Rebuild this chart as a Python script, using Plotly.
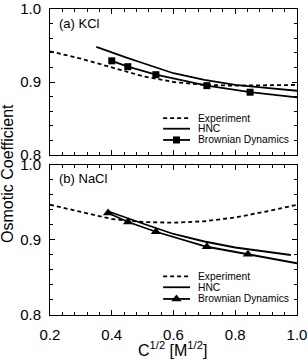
import plotly.graph_objects as go

# ---------------- data ----------------
# (a) KCl
kcl_exp_x = [0.2, 0.3, 0.4, 0.5, 0.6, 0.7, 0.8, 0.9, 1.0]
kcl_exp_y = [0.942, 0.932, 0.920, 0.908, 0.900, 0.896, 0.895, 0.895, 0.896]
kcl_hnc_x = [0.35, 0.4, 0.45, 0.5, 0.6, 0.7, 0.8, 0.9, 1.0]
kcl_hnc_y = [0.948, 0.940, 0.933, 0.926, 0.912, 0.903, 0.896, 0.892, 0.888]
kcl_bd_x = [0.40, 0.452, 0.543, 0.708, 0.848]
kcl_bd_y = [0.929, 0.921, 0.910, 0.895, 0.886]
kcl_bd_tail_x = [0.848, 1.0]
kcl_bd_tail_y = [0.886, 0.879]

# (b) NaCl
nacl_exp_x = [0.2, 0.3, 0.4, 0.5, 0.6, 0.7, 0.8, 0.9, 1.0]
nacl_exp_y = [0.947, 0.937, 0.928, 0.924, 0.923, 0.925, 0.930, 0.938, 0.947]
nacl_hnc_x = [0.39, 0.45, 0.5, 0.6, 0.7, 0.8, 0.9, 0.98]
nacl_hnc_y = [0.938, 0.929, 0.922, 0.908, 0.898, 0.890, 0.884, 0.880]
nacl_bd_x = [0.388, 0.453, 0.543, 0.708, 0.841]
nacl_bd_y = [0.936, 0.924, 0.911, 0.891, 0.881]
nacl_bd_tail_x = [0.841, 1.0]
nacl_bd_tail_y = [0.881, 0.869]

x_range = [0.2, 1.0]
y_range = [0.8, 1.0]
legend_labels = ["Experiment", "HNC", "Brownian Dynamics"]
panel_labels = ["(a) KCl", "(b) NaCl"]

FONT = "Liberation Sans, Arial, sans-serif"
LW = 1.8
DOT = "4px,3px"

fig = go.Figure()

def add_panel(xa, ya, ex, ey, hx, hy, bx, by, tx, ty, symbol, msize):
    fig.add_trace(go.Scatter(x=ex, y=ey, mode="lines", xaxis=xa, yaxis=ya,
                             line=dict(color="black", width=LW, dash=DOT), showlegend=False))
    fig.add_trace(go.Scatter(x=hx, y=hy, mode="lines", xaxis=xa, yaxis=ya,
                             line=dict(color="black", width=LW), showlegend=False))
    fig.add_trace(go.Scatter(x=tx, y=ty, mode="lines", xaxis=xa, yaxis=ya,
                             line=dict(color="black", width=LW), showlegend=False))
    fig.add_trace(go.Scatter(x=bx, y=by, mode="lines+markers", xaxis=xa, yaxis=ya,
                             line=dict(color="black", width=LW),
                             marker=dict(symbol=symbol, size=msize, color="black"),
                             showlegend=False))

add_panel("x2", "y2", kcl_exp_x, kcl_exp_y, kcl_hnc_x, kcl_hnc_y,
          kcl_bd_x, kcl_bd_y, kcl_bd_tail_x, kcl_bd_tail_y, "square", 7)
add_panel("x", "y", nacl_exp_x, nacl_exp_y, nacl_hnc_x, nacl_hnc_y,
          nacl_bd_x, nacl_bd_y, nacl_bd_tail_x, nacl_bd_tail_y, "triangle-up", 9)

# legend keys (drawn in hidden unit axes over each panel)
key_x0, key_x1, key_xm, text_x = 0.458, 0.567, 0.512, 0.595
rows_top = [0.253, 0.180, 0.103]
rows_bot = [0.257, 0.185, 0.107]

def add_keys(xa, ya, rows, symbol, msize):
    fig.add_trace(go.Scatter(x=[key_x0, key_x1], y=[rows[0]] * 2, mode="lines", xaxis=xa, yaxis=ya,
                             line=dict(color="black", width=LW, dash=DOT), showlegend=False))
    fig.add_trace(go.Scatter(x=[key_x0, key_x1], y=[rows[1]] * 2, mode="lines", xaxis=xa, yaxis=ya,
                             line=dict(color="black", width=LW), showlegend=False))
    fig.add_trace(go.Scatter(x=[key_x0, key_x1], y=[rows[2]] * 2, mode="lines", xaxis=xa, yaxis=ya,
                             line=dict(color="black", width=LW), showlegend=False))
    fig.add_trace(go.Scatter(x=[key_xm], y=[rows[2]], mode="markers", xaxis=xa, yaxis=ya,
                             marker=dict(symbol=symbol, size=msize, color="black"), showlegend=False))
    for lbl, r in zip(legend_labels, rows):
        fig.add_annotation(xref=xa + " domain", yref=ya + " domain", x=text_x, y=r,
                           text=lbl, showarrow=False, xanchor="left", yanchor="middle",
                           borderpad=0, font=dict(family=FONT, size=10.3, color="black"))

add_keys("x3", "y3", rows_top, "square", 7)
add_keys("x4", "y4", rows_bot, "triangle-up", 9)

top_dom = [0.5229, 1.0]
bot_dom = [0.0, 0.4902]

axis_common = dict(showline=True, linecolor="black", linewidth=1, mirror="allticks",
                   ticks="inside", ticklen=5, tickwidth=1, tickcolor="black",
                   showgrid=False, zeroline=False, automargin=False,
                   tickfont=dict(family=FONT, size=15, color="black"))

xcommon = dict(axis_common, range=x_range, tickmode="linear", tick0=0.2, dtick=0.2, tickformat=".1f",
               minor=dict(ticks="inside", ticklen=3, tickwidth=1, tickcolor="black", dtick=0.04, tick0=0.2))
ycommon = dict(axis_common, range=y_range, tickmode="linear", tick0=0.8, dtick=0.1, tickformat=".1f",
               minor=dict(ticks="inside", ticklen=3, tickwidth=1, tickcolor="black", dtick=0.02, tick0=0.8))

hidden = dict(visible=False, range=[0, 1], fixedrange=True, automargin=False)

fig.update_layout(
    width=308, height=360,
    margin=dict(l=50, r=11, t=9, b=45, autoexpand=False),
    paper_bgcolor="white", plot_bgcolor="rgba(0,0,0,0)",
    showlegend=False,
    xaxis=dict(xcommon, domain=[0, 1], anchor="y", ticklabelstandoff=6),
    yaxis=dict(ycommon, domain=bot_dom, anchor="x", ticklabelstandoff=5),
    xaxis2=dict(xcommon, domain=[0, 1], anchor="y2", showticklabels=False),
    yaxis2=dict(ycommon, domain=top_dom, anchor="x2", ticklabelstandoff=5),
    xaxis3=dict(hidden, domain=[0, 1], anchor="y3", overlaying="x2"),
    yaxis3=dict(hidden, domain=top_dom, anchor="x3", overlaying="y2"),
    xaxis4=dict(hidden, domain=[0, 1], anchor="y4", overlaying="x"),
    yaxis4=dict(hidden, domain=bot_dom, anchor="x4", overlaying="y"),
)

# panel labels
fig.add_annotation(xref="x2 domain", yref="y2 domain", x=0.028, y=0.904, text=panel_labels[0],
                   showarrow=False, xanchor="left", yanchor="middle",
                   font=dict(family=FONT, size=13, color="black"))
fig.add_annotation(xref="x domain", yref="y domain", x=0.028, y=0.913, text=panel_labels[1],
                   showarrow=False, xanchor="left", yanchor="middle",
                   font=dict(family=FONT, size=13, color="black"))

# axis titles
fig.add_annotation(xref="paper", yref="paper", x=-0.17, y=0.461, text="Osmotic Coefficient",
                   textangle=-90, showarrow=False, xanchor="center", yanchor="middle",
                   font=dict(family=FONT, size=16, color="black"))
fig.add_annotation(xref="paper", yref="paper", x=0.494, y=-0.146,
                   text="C<sup>1/2</sup> [M<sup>1/2</sup>]",
                   showarrow=False, xanchor="center", yanchor="bottom", borderpad=0,
                   font=dict(family=FONT, size=16, color="black"))

fig.write_html("out.html")
